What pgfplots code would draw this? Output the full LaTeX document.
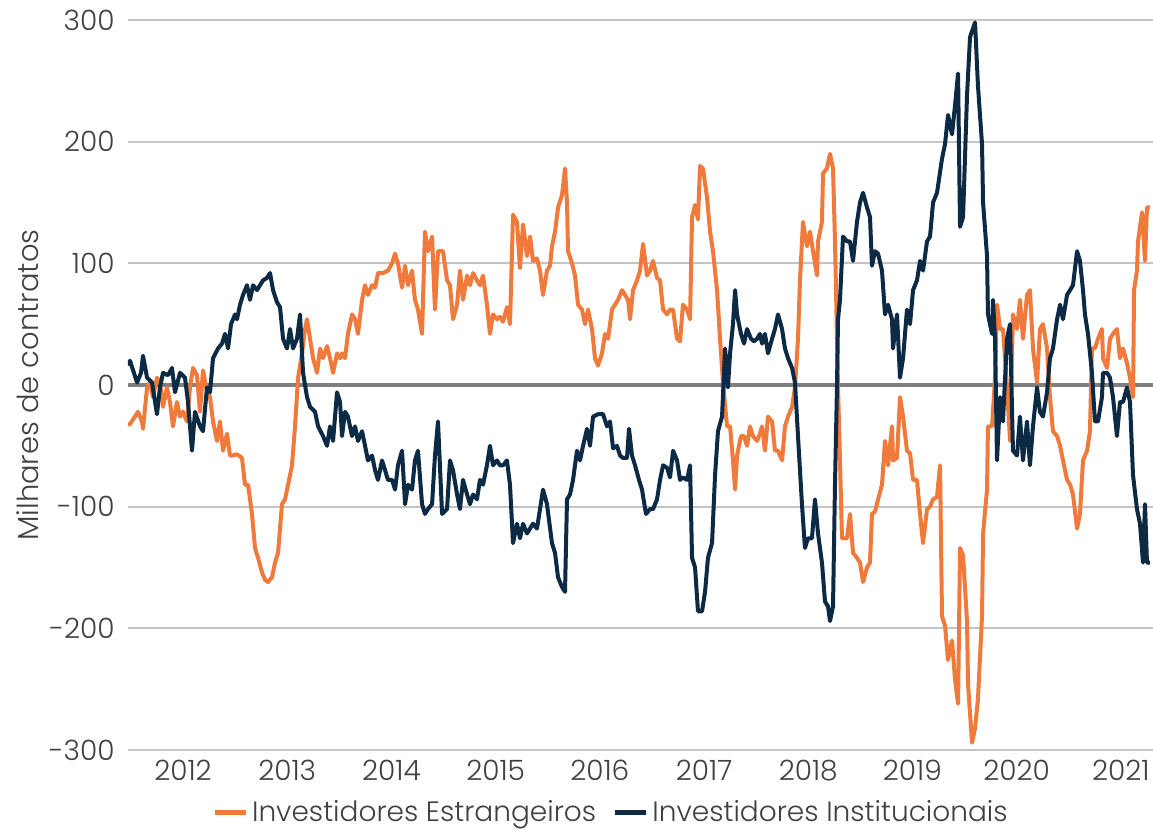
\documentclass[border=0pt]{standalone}
\usepackage{fontspec}
\setmainfont{Poppins Light}
\usepackage{pgfplots}
\pgfplotsset{compat=1.18}
\usepackage{pgfplotstable}
\definecolor{estr}{HTML}{F07A3C}
\definecolor{inst}{HTML}{0C2A44}
\definecolor{txt}{HTML}{404040}
\definecolor{gridc}{HTML}{C4C4C4}
\definecolor{zeroc}{HTML}{7F7F7F}

% Investidores Estrangeiros (milhares de contratos)
\pgfplotstableread{
x y
2011.472 -33
2011.491 -32
2011.539 -26
2011.568 -22
2011.607 -30
2011.616 -36
2011.655 -2
2011.683 2
2011.712 -10
2011.750 6
2011.779 2
2011.808 -18
2011.846 -2
2011.875 -14
2011.904 -34
2011.942 -14
2011.971 -26
2012.000 -22
2012.038 -30
2012.067 -2
2012.096 14
2012.134 8
2012.163 -22
2012.192 12
2012.230 -5
2012.259 -10
2012.288 -30
2012.326 -46
2012.355 -30
2012.384 -54
2012.422 -40
2012.451 -58
2012.470 -58
2012.518 -57
2012.566 -60
2012.595 -82
2012.624 -82
2012.662 -106
2012.691 -134
2012.720 -142
2012.758 -154
2012.787 -160
2012.816 -162
2012.854 -158
2012.883 -146
2012.912 -138
2012.950 -98
2012.979 -94
2013.008 -82
2013.046 -66
2013.075 -34
2013.104 6
2013.142 26
2013.171 46
2013.190 54
2013.219 38
2013.248 22
2013.286 10
2013.315 30
2013.344 22
2013.382 32
2013.411 22
2013.440 10
2013.478 26
2013.507 22
2013.526 26
2013.555 22
2013.583 42
2013.622 58
2013.651 54
2013.679 42
2013.718 70
2013.747 82
2013.775 74
2013.814 82
2013.843 80
2013.871 92
2013.919 92
2013.967 94
2014.006 100
2014.035 108
2014.063 100
2014.102 80
2014.131 98
2014.159 82
2014.198 94
2014.226 70
2014.255 62
2014.294 42
2014.322 126
2014.351 110
2014.390 122
2014.418 62
2014.447 110
2014.495 110
2014.534 86
2014.562 82
2014.591 54
2014.630 66
2014.658 94
2014.687 70
2014.726 90
2014.754 82
2014.783 92
2014.821 86
2014.850 82
2014.879 90
2014.917 66
2014.946 42
2014.975 58
2015.013 54
2015.042 56
2015.071 52
2015.109 64
2015.138 50
2015.167 140
2015.205 134
2015.234 96
2015.263 132
2015.301 106
2015.330 122
2015.359 102
2015.397 104
2015.426 94
2015.455 74
2015.493 94
2015.522 98
2015.541 114
2015.570 126
2015.599 146
2015.637 156
2015.666 178
2015.685 150
2015.695 110
2015.733 100
2015.762 90
2015.791 66
2015.829 62
2015.858 50
2015.887 62
2015.925 46
2015.954 22
2015.983 16
2016.021 26
2016.050 42
2016.079 38
2016.117 62
2016.146 66
2016.175 70
2016.213 78
2016.242 74
2016.271 70
2016.290 54
2016.319 78
2016.357 86
2016.386 94
2016.415 116
2016.453 90
2016.482 94
2016.511 102
2016.549 88
2016.578 86
2016.607 62
2016.645 58
2016.674 62
2016.703 62
2016.741 38
2016.770 36
2016.798 66
2016.837 62
2016.866 54
2016.885 138
2016.914 148
2016.942 136
2016.962 180
2016.990 178
2017.029 154
2017.058 126
2017.086 110
2017.125 78
2017.154 38
2017.182 2
2017.221 -34
2017.250 -34
2017.278 -62
2017.298 -86
2017.317 -58
2017.355 -42
2017.384 -42
2017.413 -50
2017.441 -34
2017.470 -42
2017.509 -46
2017.537 -40
2017.557 -34
2017.585 -54
2017.614 -26
2017.653 -30
2017.681 -54
2017.710 -54
2017.749 -62
2017.777 -34
2017.806 -26
2017.845 -18
2017.873 -2
2017.902 38
2017.921 86
2017.950 134
2017.988 114
2018.017 126
2018.046 110
2018.084 90
2018.094 118
2018.132 134
2018.142 174
2018.180 178
2018.209 190
2018.238 178
2018.257 118
2018.286 -2
2018.305 -62
2018.324 -126
2018.372 -126
2018.401 -106
2018.430 -138
2018.468 -142
2018.497 -146
2018.526 -162
2018.564 -150
2018.593 -146
2018.612 -106
2018.641 -104
2018.670 -94
2018.708 -82
2018.737 -46
2018.766 -66
2018.804 -34
2018.814 -62
2018.852 -60
2018.881 -10
2018.910 -26
2018.948 -54
2018.977 -56
2019.006 -78
2019.044 -78
2019.073 -106
2019.102 -130
2019.140 -102
2019.169 -100
2019.198 -94
2019.236 -92
2019.265 -66
2019.284 -190
2019.313 -198
2019.342 -226
2019.380 -210
2019.409 -242
2019.438 -262
2019.457 -134
2019.486 -140
2019.524 -194
2019.534 -246
2019.572 -294
2019.601 -282
2019.629 -258
2019.668 -190
2019.678 -122
2019.716 -86
2019.725 -34
2019.764 -34
2019.793 6
2019.812 66
2019.841 46
2019.869 46
2019.908 -2
2019.937 -46
2019.965 58
2020.004 46
2020.032 70
2020.061 38
2020.100 74
2020.128 78
2020.157 30
2020.196 2
2020.224 46
2020.253 50
2020.292 30
2020.320 -10
2020.349 -38
2020.388 -42
2020.417 -50
2020.445 -62
2020.484 -78
2020.513 -82
2020.541 -90
2020.580 -118
2020.608 -106
2020.637 -62
2020.676 -54
2020.704 -38
2020.723 30
2020.752 30
2020.781 38
2020.819 46
2020.829 22
2020.868 14
2020.896 38
2020.925 42
2020.963 46
2020.992 22
2021.021 30
2021.059 18
2021.088 6
2021.117 -10
2021.127 78
2021.155 94
2021.165 118
2021.204 142
2021.232 102
2021.251 146
2021.280 146
}\estr

% Investidores Institucionais (milhares de contratos)
\pgfplotstableread{
x y
2011.472 16
2011.491 20
2011.559 2
2011.597 10
2011.616 24
2011.655 6
2011.703 2
2011.750 -24
2011.779 -2
2011.808 10
2011.856 8
2011.894 14
2011.923 -6
2011.971 10
2012.019 6
2012.048 -14
2012.086 -54
2012.115 -22
2012.163 -34
2012.192 -38
2012.230 -2
2012.259 -6
2012.288 22
2012.336 30
2012.374 34
2012.403 42
2012.432 30
2012.461 50
2012.499 58
2012.518 54
2012.547 66
2012.576 74
2012.614 82
2012.643 70
2012.672 82
2012.710 78
2012.739 82
2012.768 86
2012.806 88
2012.835 92
2012.864 78
2012.902 68
2012.931 64
2012.960 38
2012.998 30
2013.027 46
2013.056 30
2013.094 38
2013.123 58
2013.152 10
2013.190 -10
2013.219 -18
2013.267 -22
2013.296 -34
2013.344 -42
2013.382 -50
2013.411 -34
2013.440 -46
2013.478 -6
2013.507 -14
2013.526 -42
2013.555 -22
2013.583 -26
2013.622 -42
2013.651 -34
2013.679 -46
2013.718 -38
2013.747 -50
2013.775 -62
2013.814 -58
2013.843 -70
2013.871 -78
2013.910 -62
2013.939 -70
2013.967 -78
2014.006 -78
2014.035 -86
2014.063 -66
2014.102 -54
2014.131 -98
2014.159 -82
2014.198 -86
2014.226 -62
2014.255 -54
2014.294 -98
2014.322 -106
2014.351 -102
2014.390 -98
2014.418 -58
2014.447 -30
2014.486 -106
2014.534 -102
2014.562 -62
2014.591 -70
2014.630 -90
2014.658 -102
2014.687 -78
2014.726 -90
2014.754 -98
2014.783 -90
2014.821 -94
2014.850 -78
2014.879 -82
2014.917 -66
2014.946 -50
2014.975 -66
2015.013 -62
2015.042 -66
2015.071 -66
2015.109 -62
2015.138 -82
2015.167 -130
2015.205 -114
2015.234 -126
2015.263 -114
2015.301 -122
2015.330 -118
2015.359 -114
2015.397 -118
2015.426 -102
2015.455 -86
2015.493 -98
2015.541 -130
2015.570 -138
2015.599 -158
2015.637 -166
2015.666 -170
2015.685 -94
2015.714 -90
2015.743 -78
2015.781 -54
2015.810 -62
2015.839 -50
2015.877 -36
2015.906 -50
2015.935 -26
2015.983 -24
2016.031 -24
2016.069 -34
2016.098 -30
2016.127 -52
2016.165 -50
2016.194 -58
2016.223 -60
2016.261 -60
2016.280 -36
2016.309 -58
2016.338 -66
2016.376 -78
2016.405 -86
2016.443 -106
2016.482 -102
2016.511 -102
2016.549 -94
2016.578 -78
2016.607 -66
2016.645 -68
2016.674 -76
2016.703 -54
2016.741 -62
2016.770 -78
2016.798 -76
2016.837 -78
2016.866 -66
2016.885 -142
2016.914 -150
2016.942 -186
2016.981 -186
2017.010 -170
2017.038 -142
2017.077 -130
2017.106 -74
2017.134 -38
2017.173 -26
2017.202 30
2017.230 -2
2017.250 26
2017.278 50
2017.298 78
2017.317 58
2017.355 42
2017.384 34
2017.413 46
2017.451 38
2017.480 36
2017.509 38
2017.537 42
2017.557 34
2017.585 42
2017.614 26
2017.653 38
2017.681 46
2017.710 58
2017.749 46
2017.777 30
2017.806 22
2017.845 14
2017.873 2
2017.902 -42
2017.940 -98
2017.969 -134
2017.998 -126
2018.036 -126
2018.065 -94
2018.094 -122
2018.132 -146
2018.161 -178
2018.190 -182
2018.209 -194
2018.238 -182
2018.257 -82
2018.276 -2
2018.286 54
2018.305 70
2018.334 122
2018.372 118
2018.401 118
2018.430 102
2018.468 134
2018.497 150
2018.526 158
2018.564 146
2018.593 138
2018.612 98
2018.641 110
2018.670 108
2018.708 94
2018.737 58
2018.766 66
2018.804 54
2018.814 30
2018.852 58
2018.881 6
2018.910 22
2018.948 62
2018.977 50
2019.006 78
2019.044 86
2019.073 102
2019.102 94
2019.140 118
2019.169 122
2019.198 150
2019.236 158
2019.284 186
2019.313 198
2019.342 222
2019.380 206
2019.409 230
2019.438 256
2019.457 130
2019.486 138
2019.524 238
2019.553 286
2019.601 298
2019.629 246
2019.668 198
2019.678 150
2019.716 106
2019.725 58
2019.764 42
2019.773 70
2019.793 38
2019.812 -62
2019.841 -10
2019.869 -30
2019.908 38
2019.937 50
2019.965 -54
2020.004 -58
2020.032 -26
2020.061 -62
2020.100 -30
2020.128 -66
2020.157 -34
2020.196 -2
2020.224 -22
2020.253 -26
2020.292 -6
2020.320 22
2020.349 30
2020.388 54
2020.417 66
2020.445 54
2020.484 74
2020.513 78
2020.541 82
2020.580 110
2020.608 102
2020.637 78
2020.656 58
2020.685 42
2020.723 10
2020.752 -30
2020.781 -30
2020.819 -10
2020.829 10
2020.868 10
2020.896 6
2020.925 -10
2020.963 -42
2020.992 -14
2021.021 -14
2021.059 -2
2021.088 -14
2021.117 -74
2021.155 -102
2021.184 -114
2021.213 -146
2021.232 -98
2021.251 -146
2021.280 -146
}\inst

\begin{document}
\begin{tikzpicture}
\begin{axis}[
  name=ax,
  scale only axis,
  width=512.5pt, height=365pt,
  xmin=2011.472, xmax=2021.309,
  ymin=-300, ymax=300,
  xtick={2012,2013,2014,2015,2016,2017,2018,2019,2020,2021},
  xticklabels={2012,2013,2014,2015,2016,2017,2018,2019,2020,2021},
  ytick={-300,-200,-100,0,100,200,300},
  yticklabels={-300,-200,-100,0,100,200,300},
  ymajorgrids,
  grid style={draw=gridc, line width=1pt},
  axis line style={draw=none},
  major tick length=0pt,
  xticklabel style={font=\fontsize{14}{16}\selectfont, color=txt, inner sep=0pt, anchor=north, yshift=-5pt},
  yticklabel style={font=\fontsize{14}{16}\selectfont, color=txt, inner sep=0pt, anchor=east, xshift=-6.5pt},
  ylabel={Milhares de contratos},
  ylabel style={at={(axis description cs:-0.0976,0.5)}, anchor=center, font=\fontsize{14.5}{17}\selectfont, color=txt},
  legend columns=2,
  legend style={at={(0.472,-0.086)}, anchor=center, draw=none, fill=none,
    font=\fontsize{14}{16}\selectfont, text=txt,
    /tikz/every even column/.append style={column sep=6pt},
    inner sep=0pt},
  legend image code/.code={\draw[#1, line width=2.6pt] (0pt,0pt) -- (15.5pt,0pt);},
  every axis plot/.append style={line width=2pt, line join=round},
  clip=true,
]
\draw[zeroc, line width=1.8pt] (rel axis cs:0,0.5) -- (rel axis cs:1,0.5);
\addplot[estr, no markers] table[x=x, y=y] {\estr};
\addlegendentry{Investidores Estrangeiros}
\addplot[inst, no markers] table[x=x, y=y] {\inst};
\addlegendentry{Investidores Institucionais}
\end{axis}
\pgfresetboundingbox
\path[use as bounding box] ([xshift=-64pt,yshift=-41.5pt]ax.south west) rectangle ([yshift=10pt]ax.north east);
\end{tikzpicture}
\end{document}
